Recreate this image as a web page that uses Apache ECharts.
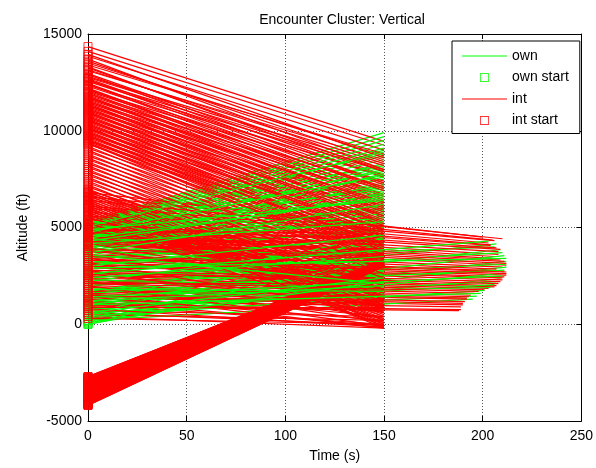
<!DOCTYPE html>
<html><head><meta charset="utf-8">
<script src="https://cdn.jsdelivr.net/npm/echarts@6/dist/echarts.min.js"></script>
<style>html,body{margin:0;padding:0;background:#fff}#c{width:596px;height:468px}</style>
</head><body><div id="c"></div>
<script>
const titleText = 'Encounter Cluster: Vertical';
const xTicks = [0, 50, 100, 150, 200, 250];
const yTicks = [-5000, 0, 5000, 10000, 15000];
const legendNames = ['own', 'own start', 'int', 'int start'];

// intruder tracks descending from high altitude (t = 0 -> 150 s)
const intDescStart = [14350,14100,13850,13600,13400,13250,13100,12950,12800,12700,12600,12450,12350,12200,12100,12000,11900,11800,11700,11600,11500,11400,11300,11200,11100,11000,10900,10800,10700,10600,10500,10400,10300,10200,10100,10000,
  9900,9800,9700,9600,9500,9400,9300,9200,9100,9000,8900,8800,8700,8600,8500,8400,8300,8200,8100,8000,7900,7800,7700,7600,7500,7400,7300,7200,7100,7000,
  6950,6900,6850,6800,6750,6700,6650,6600,6550,6500,6450,6400,6350,6300,6250,6200,6150,6100,6050,6000,5950,5900,5850,5800,5750,5700,5650,5600,5550,5500,5450,5400,5350,5300,5250,5200,5150,5100,5050,5000];
const intDescEnd = [9450,9250,9000,8400,8800,7900,8500,7600,8200,7200,7900,6900,7700,6600,7400,6300,7100,6000,6900,5800,6600,5500,6300,5200,6100,5000,5800,4800,5600,4500,5300,4300,5100,4000,4900,3800,
  4600,3600,4400,3400,4200,3200,4000,3000,3800,2800,3600,2600,3400,2400,3200,2200,3000,2000,2800,1800,2600,1600,2400,1400,2200,1200,2000,1000,1800,800,
  1600,2500,1300,2200,1000,2000,800,1800,600,1500,400,1300,200,1100,0,900,-100,700,-200,500,1400,300,1200,100,1000,-100,800,2000,600,1800,400,1600,200,1400,0,1200,2400,1000,2200,800];

// more intruder tracks descending from high altitude (t = 0 -> 150 s)
const intDesc2Start = [13950,13700,13500,13300,13150,12900,12750,12650,12550,12400,12300,12150,12050,11950,11850,11750,11650,11550,11450,11350,11250,11150,11050,10950,10850,10750,10650,10550,10450,10350,10250,10150,10050,9950,9850,9750,9650,9550,9450,9350];
const intDesc2End = [8600,8000,8700,7700,8300,7300,8000,7000,7600,6700,7300,6400,7000,6100,6700,5900,6500,5600,6200,5300,5900,5100,5700,4900,5400,4600,5200,4400,4900,4100,4700,3900,4500,3700,4300,3500,4100,3300,3900,3100];

// intruder tracks at mid/low altitude (t = 0 -> 150 s)
const intMidStart = [4950,4900,4850,4800,4750,4700,4650,4600,4550,4500,4450,4400,4350,4300,4250,4200,4150,4100,4050,4000,3900,3800,3700,3600,3500,3400,3300,3200,3100,3000,2900,2800,2700,2600,2500,2400,2300,2200,2100,2000,1900,1800,1700,1600,1500,1400,1300,1200,1100,1000,900,800,700,600,500,400,300];
const intMidEnd = [4400,3600,4700,3100,4200,2700,4500,3800,2300,4100,3300,1900,3900,2900,4300,1500,3500,2500,3900,1200,3400,2100,3700,900,3000,1700,3300,600,2600,1300,2900,300,2200,1000,2500,100,1800,700,2100,-100,1400,400,1700,-200,1000,200,1300,-100,700,0,900,-150,400,-50,200,-200,0];

// intruder tracks climbing from below (t = 0 -> 150 s)
const intClimbStart = [-2700,-2730,-2770,-2800,-2840,-2870,-2910,-2940,-2980,-3010,-3050,-3080,-3120,-3150,-3190,-3220,-3260,-3290,-3330,-3360,-3400,-3430,-3470,-3500,-3540,-3570,-3610,-3640,-3680,-3710,-3750,-3780,-3820,-3850,-3890,-3920,-3960,-3990,-4030,-4060,-4100,-4130,-4170,-4200,
  -2715,-2750,-2785,-2820,-2855,-2890,-2925,-2960,-2995,-3030,-3065,-3100,-3135,-3170,-3205,-3240,-3275,-3310,-3345,-3380,-3415,-3450,-3485,-3520,-3555,-3590,-3625,-3660,-3695,-3730,-3765,-3800,-3835,-3870,-3905,-3940,-3975,-4010,-4045,-4080,-4115,-4150,-4185];
const intClimbEnd = [3300,3400,3250,3350,3200,3380,3150,3300,3100,3350,3050,3250,3100,3300,3000,3200,3150,3050,3250,3100,3000,3200,3050,3150,3000,3100,3250,3050,3150,3000,3200,3050,3100,3000,3150,3050,3000,3100,3050,3000,3100,3050,3000,3000,
  3350,3280,3320,3220,3290,3180,3260,3130,3230,3080,3200,3060,3170,3040,3140,3020,3110,3000,3090,3180,3060,3150,3030,3120,3010,3090,3000,3070,3180,3040,3130,3020,3100,3000,3080,3160,3040,3110,3020,3060,3000,3030,3010];

// intruder tracks lasting beyond 150 s
const intLongStart = [6800,6600,6400,6100,6000,5800,5600,5400,5200,5000,4900,4800,4700,4500,4300,4200,4100,3900,3800,3600,3500,3400,3300,3200,3100,3000,2800,2700,2600,2500,2400,2300,2200,2100,2000,1900,1800,1700,1600,1500,1400,1200,1000,900];
const intLongEnd = [4500,4420,4350,4320,4200,4100,4070,3950,3870,3750,3610,3500,3400,3320,3250,3150,3050,2950,2850,2750,2700,2620,2540,2450,2400,2290,2200,2100,2000,1930,1850,1780,1700,1600,1500,1420,1350,1300,1170,1080,1000,900,760,700];
const intLongT = [200,210,205,206,203,204,204,207,209,208,208,206,205,209,211,212,212,210,207,211,212,212,212,211,210,210,209,208,207,206,203,201,198,196,194,193,192,192,191,190,190,189,189,188];

// ownship tracks climbing from upper level (t = 0 -> 150 s)
const ownUpStart = [5300,5250,5200,5150,5100,5050,5000,4950,4900,4850,4800,4750,4700,4650,4600,4550,4500,4450,4400,4350,4300,4250,4200,4150,4100,5280,5180,5080,4980,4880,4780,4680,4580,4480,4380,4280,4180,4080,3980,3880,3780,3680,3580,3480];
const ownUpEnd = [9900,9700,9500,9300,9100,8900,8700,8500,8300,8100,7900,7700,7500,7300,7100,6900,6700,6500,6300,6100,5900,5700,5500,5300,5100,8800,8200,7600,7000,6400,5800,5200,9000,8000,7200,6600,6000,5400,4800,7800,6800,6200,5600,5000];

// ownship tracks at lower level (t = 0 -> 150 s)
const ownLowStart = [0,0,50,100,150,200,300,400,500,600,700,800,900,1000,1100,1200,1300,1400,1500,1600,1700,1800,1900,2000,2100,2200,2300,2400,2500,2600,2700,2800,2900,3000,3100,3200,3300,3400,3500,3600,3700,3800,3900,4000,4100];
const ownLowEnd = [3000,2600,3400,2200,3800,2000,4200,1800,4500,2400,3600,1600,4000,2800,4700,2000,3200,1500,4400,2600,3800,1700,4900,3000,2300,4200,1900,3500,5000,2700,4000,2200,3300,4600,2500,3800,1800,4400,3000,2100,4900,2700,3600,1500,2400];

// ownship tracks lasting beyond 150 s
const ownLongStart = [2600,2000,3100,1600,2400,1200,2900,900,2100,700,1800,500,1400,300,1100,800,1500,400,1000,600,200];
const ownLongEnd = [4300,4150,4000,3850,3700,3550,3400,3250,3100,2950,2800,2650,2500,2350,2200,2050,1900,1750,1600,1450,1300];
const ownLongT = [203,207,206,209,210,211,212,212,212,212,211,211,210,209,208,206,204,201,199,197,195];

const INT_COLOR = '#ff0000';
const OWN_COLOR = '#00ff00';
const FONT = 'Liberation Sans, Arial, sans-serif';
const LW = 1.2;

function seg(t0, a0, t1, a1) { return { coords: [[t0, a0], [t1, a1]] }; }

const intSegs = [];
intDescStart.forEach((a, i) => intSegs.push(seg(0, a, 150, intDescEnd[i])));
intDesc2Start.forEach((a, i) => intSegs.push(seg(0, a, 150, intDesc2End[i])));
intMidStart.forEach((a, i) => intSegs.push(seg(0, a, 150, intMidEnd[i])));
intClimbStart.forEach((a, i) => intSegs.push(seg(0, a, 150, intClimbEnd[i])));
intLongStart.forEach((a, i) => intSegs.push(seg(0, a, intLongT[i], intLongEnd[i])));

const ownSegs = [];
ownUpStart.forEach((a, i) => ownSegs.push(seg(0, a, 150, ownUpEnd[i])));
ownLowStart.forEach((a, i) => ownSegs.push(seg(0, a, 150, ownLowEnd[i])));
ownLongStart.forEach((a, i) => ownSegs.push(seg(0, a, ownLongT[i], ownLongEnd[i])));

const N = 6;
const series = [];
function ownSeries(k) {
  return {
    type: 'lines', name: 'own', coordinateSystem: 'cartesian2d', polyline: false, silent: true,
    lineStyle: { color: OWN_COLOR, width: LW, opacity: 1, curveness: 0 }, z: 2,
    data: ownSegs.filter((s, i) => i % N === k)
  };
}
function intSeries(k) {
  return {
    type: 'lines', name: 'int', coordinateSystem: 'cartesian2d', polyline: false, silent: true,
    lineStyle: { color: INT_COLOR, width: LW, opacity: 1, curveness: 0 }, z: 2,
    data: intSegs.filter((s, i) => i % N === k)
  };
}
for (let k = 0; k < N; k++) {
  if (k % 2 === 0) { series.push(ownSeries(k)); series.push(intSeries(k)); }
  else { series.push(intSeries(k)); series.push(ownSeries(k)); }
}
series.push({
  type: 'scatter', name: 'own start', silent: true, symbol: 'rect', symbolSize: 8, z: 3,
  itemStyle: { color: 'rgba(0,0,0,0)', borderColor: OWN_COLOR, borderWidth: 1 },
  data: ownSegs.map(s => s.coords[0])
});
series.push({
  type: 'scatter', name: 'int start', silent: true, symbol: 'rect', symbolSize: 8, z: 3,
  itemStyle: { color: 'rgba(0,0,0,0)', borderColor: INT_COLOR, borderWidth: 1 },
  data: intSegs.map(s => s.coords[0])
});

const lineIcon = 'path://M0,0H40V1H0Z';
const squareIcon = 'path://M0,0H10V10H0ZM1,1V9H9V1Z';

const chart = echarts.init(document.getElementById('c'), null, { renderer: 'canvas' });
chart.setOption({
  animation: false,
  backgroundColor: '#fff',
  title: { text: titleText, left: 337, textAlign: 'center', top: 8,
    textStyle: { fontSize: 14, fontWeight: 'normal', color: '#000', fontFamily: FONT } },
  grid: { left: 88, right: 9, top: 34, bottom: 41, containLabel: false },
  legend: {
    orient: 'vertical', left: 452, top: 41, padding: [8, 11, 6, 10], itemGap: 7.5,
    itemWidth: 45, itemHeight: 9, backgroundColor: '#fff', borderColor: '#000', borderWidth: 1,
    selectedMode: false,
    textStyle: { fontSize: 14, color: '#000', fontFamily: FONT },
    data: [
      { name: legendNames[0], icon: lineIcon, itemStyle: { color: OWN_COLOR, borderWidth: 0 } },
      { name: legendNames[1], icon: squareIcon, itemStyle: { color: OWN_COLOR, borderWidth: 0 } },
      { name: legendNames[2], icon: lineIcon, itemStyle: { color: INT_COLOR, borderWidth: 0 } },
      { name: legendNames[3], icon: squareIcon, itemStyle: { color: INT_COLOR, borderWidth: 0 } }
    ]
  },
  xAxis: [{
    type: 'value', min: xTicks[0], max: xTicks[xTicks.length - 1], interval: 50,
    name: 'Time (s)', nameLocation: 'middle', nameGap: 28,
    nameTextStyle: { fontSize: 14, color: '#000', fontFamily: FONT },
    axisLine: { show: true, onZero: false, lineStyle: { color: '#000', width: 1 } },
    axisTick: { show: true, inside: true, length: 5, lineStyle: { color: '#000' } },
    axisLabel: { fontSize: 14, color: '#000', fontFamily: FONT, margin: 8 },
    splitLine: { show: true, lineStyle: { color: '#555', type: [1, 2], width: 1 } }
  }, {
    type: 'value', position: 'top', min: xTicks[0], max: xTicks[xTicks.length - 1], interval: 50,
    axisLine: { show: true, onZero: false, lineStyle: { color: '#000', width: 1 } },
    axisTick: { show: true, inside: true, length: 5, lineStyle: { color: '#000' } },
    axisLabel: { show: false }, splitLine: { show: false }
  }],
  yAxis: [{
    type: 'value', min: yTicks[0], max: yTicks[yTicks.length - 1], interval: 5000,
    name: 'Altitude (ft)', nameLocation: 'middle', nameGap: 58, nameRotate: 90,
    nameTextStyle: { fontSize: 14, color: '#000', fontFamily: FONT },
    axisLine: { show: true, onZero: false, lineStyle: { color: '#000', width: 1 } },
    axisTick: { show: true, inside: true, length: 5, lineStyle: { color: '#000' } },
    axisLabel: { fontSize: 14, color: '#000', fontFamily: FONT, margin: 6, formatter: v => String(v) },
    splitLine: { show: true, lineStyle: { color: '#555', type: [1, 2], width: 1 } }
  }, {
    type: 'value', position: 'right', min: yTicks[0], max: yTicks[yTicks.length - 1], interval: 5000,
    axisLine: { show: true, onZero: false, lineStyle: { color: '#000', width: 1 } },
    axisTick: { show: true, inside: true, length: 5, lineStyle: { color: '#000' } },
    axisLabel: { show: false }, splitLine: { show: false }
  }],
  series: series
});
</script>
</body></html>
